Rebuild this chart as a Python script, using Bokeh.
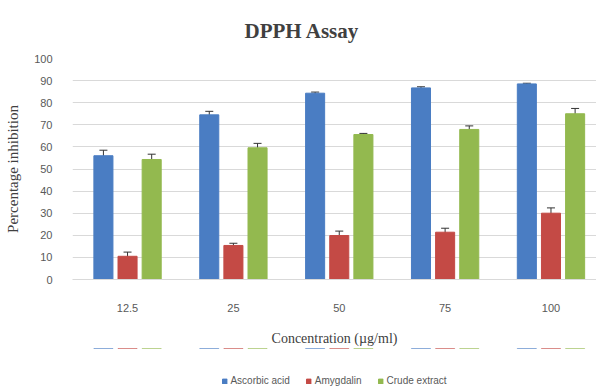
from bokeh.plotting import figure
from bokeh.layouts import column
from bokeh.models import ColumnDataSource, Whisker, Legend, LegendItem, FixedTicker, Range1d
from bokeh.embed import file_html
from bokeh.resources import INLINE

# DPPH radical scavenging data
concentrations = ["12.5", "25", "50", "75", "100"]
series_names = ["Ascorbic acid", "Amygdalin", "Crude extract"]
ascorbic = [56.0, 74.5, 84.3, 86.7, 88.5]
ascorbic_err = [2.5, 1.6, 0.5, 0.5, 0.3]
amygdalin = [10.5, 15.4, 19.9, 21.4, 30.0]
amygdalin_err = [1.9, 1.0, 2.0, 1.8, 2.4]
crude = [54.3, 59.6, 65.6, 67.9, 75.0]
crude_err = [2.4, 2.0, 0.5, 1.6, 2.4]
y_ticks = [0, 10, 20, 30, 40, 50, 60, 70, 80, 90, 100]

colors = ["#4a7dc3", "#c44a45", "#93b94f"]
values = [ascorbic, amygdalin, crude]
errors = [ascorbic_err, amygdalin_err, crude_err]
offsets = [-0.228, 0.0, 0.228]
bar_w = 0.18

tick_font = "'Liberation Sans Narrow', 'Liberation Sans', sans-serif"
serif_font = "'Liberation Serif', serif"

p = figure(width=596, height=348, output_backend="svg", toolbar_location=None,
           x_range=Range1d(-0.52, 4.43), y_range=Range1d(0, 100),
           min_border_left=72, min_border_right=0, min_border_top=58,
           min_border_bottom=69, background_fill_color="white",
           border_fill_color="white", outline_line_color=None)

p.title.text = "DPPH Assay"
p.title.align = "left"
p.title.text_font = serif_font
p.title.text_font_size = "21px"
p.title.text_font_style = "bold"
p.title.text_color = "#404040"
p.title.offset = 172
p.title.standoff = 32

xs = list(range(len(concentrations)))
sources = []
for name, vals, errs, off, col in zip(series_names, values, errors, offsets, colors):
    src = ColumnDataSource(dict(
        x=[i + off for i in xs], top=vals,
        upper=[v + e for v, e in zip(vals, errs)],
        lower=[v - e for v, e in zip(vals, errs)],
    ))
    sources.append(src)
    p.vbar(x="x", top="top", width=bar_w, bottom=0, source=src,
           fill_color=col, line_color=col)
    w = Whisker(source=src, base="x", upper="upper", lower="lower",
                line_color="#333333", line_width=1)
    w.upper_head.size = 8
    w.lower_head.size = 8
    w.upper_head.line_color = "#333333"
    w.lower_head.line_color = "#333333"
    p.add_layout(w)

# axes
p.xaxis.ticker = FixedTicker(ticks=xs)
p.xaxis.major_label_overrides = {i: c for i, c in enumerate(concentrations)}
p.yaxis.ticker = FixedTicker(ticks=y_ticks)

for ax in (p.xaxis[0], p.yaxis[0]):
    ax.major_tick_line_color = None
    ax.minor_tick_line_color = None
    ax.major_label_text_font = tick_font
    ax.major_label_text_font_size = "11px"
    ax.major_label_text_color = "#595959"
    ax.axis_label_text_font = serif_font
    ax.axis_label_text_font_style = "normal"
    ax.axis_label_text_color = "#404040"
    ax.axis_label_text_font_size = "14px"

p.yaxis.axis_label_text_font_size = "15px"
p.xaxis.axis_line_color = "#d9d9d9"
p.yaxis.axis_line_color = None
p.xaxis.major_label_standoff = 18
p.yaxis.major_label_standoff = 14
p.xaxis.axis_label = "Concentration (µg/ml)"
p.yaxis.axis_label = "Percentage inhibition"
p.xaxis.axis_label_standoff = 16
p.yaxis.axis_label_standoff = 10

p.xgrid.grid_line_color = None
p.ygrid.grid_line_color = "#d9d9d9"
p.ygrid.ticker = FixedTicker(ticks=y_ticks)

# legend strip under the chart: its renderers share the bar sources but
# the strip's y range lies below zero, so only the legend itself shows
lg = figure(width=596, height=43, output_backend="svg", toolbar_location=None,
            x_range=Range1d(-0.52, 4.43), y_range=Range1d(-20, -10), min_border=0,
            background_fill_color="white", border_fill_color="white",
            outline_line_color=None)
lg.axis.visible = False
lg.grid.visible = False
items = []
for name, src, col in zip(series_names, sources, colors):
    r = lg.vbar(x="x", top="top", width=bar_w, bottom=0, source=src,
                fill_color=col, line_color=col)
    items.append(LegendItem(label=name, renderers=[r]))

legend = Legend(items=items, orientation="horizontal", location="bottom_center",
                label_text_font=tick_font, label_text_font_size="10px",
                label_text_color="#595959", glyph_width=6, glyph_height=6,
                label_standoff=3, spacing=16, border_line_color=None,
                background_fill_alpha=0, padding=0, margin=5)
lg.add_layout(legend, "center")

open("out.html", "w").write(file_html(column(p, lg, spacing=0), INLINE))
